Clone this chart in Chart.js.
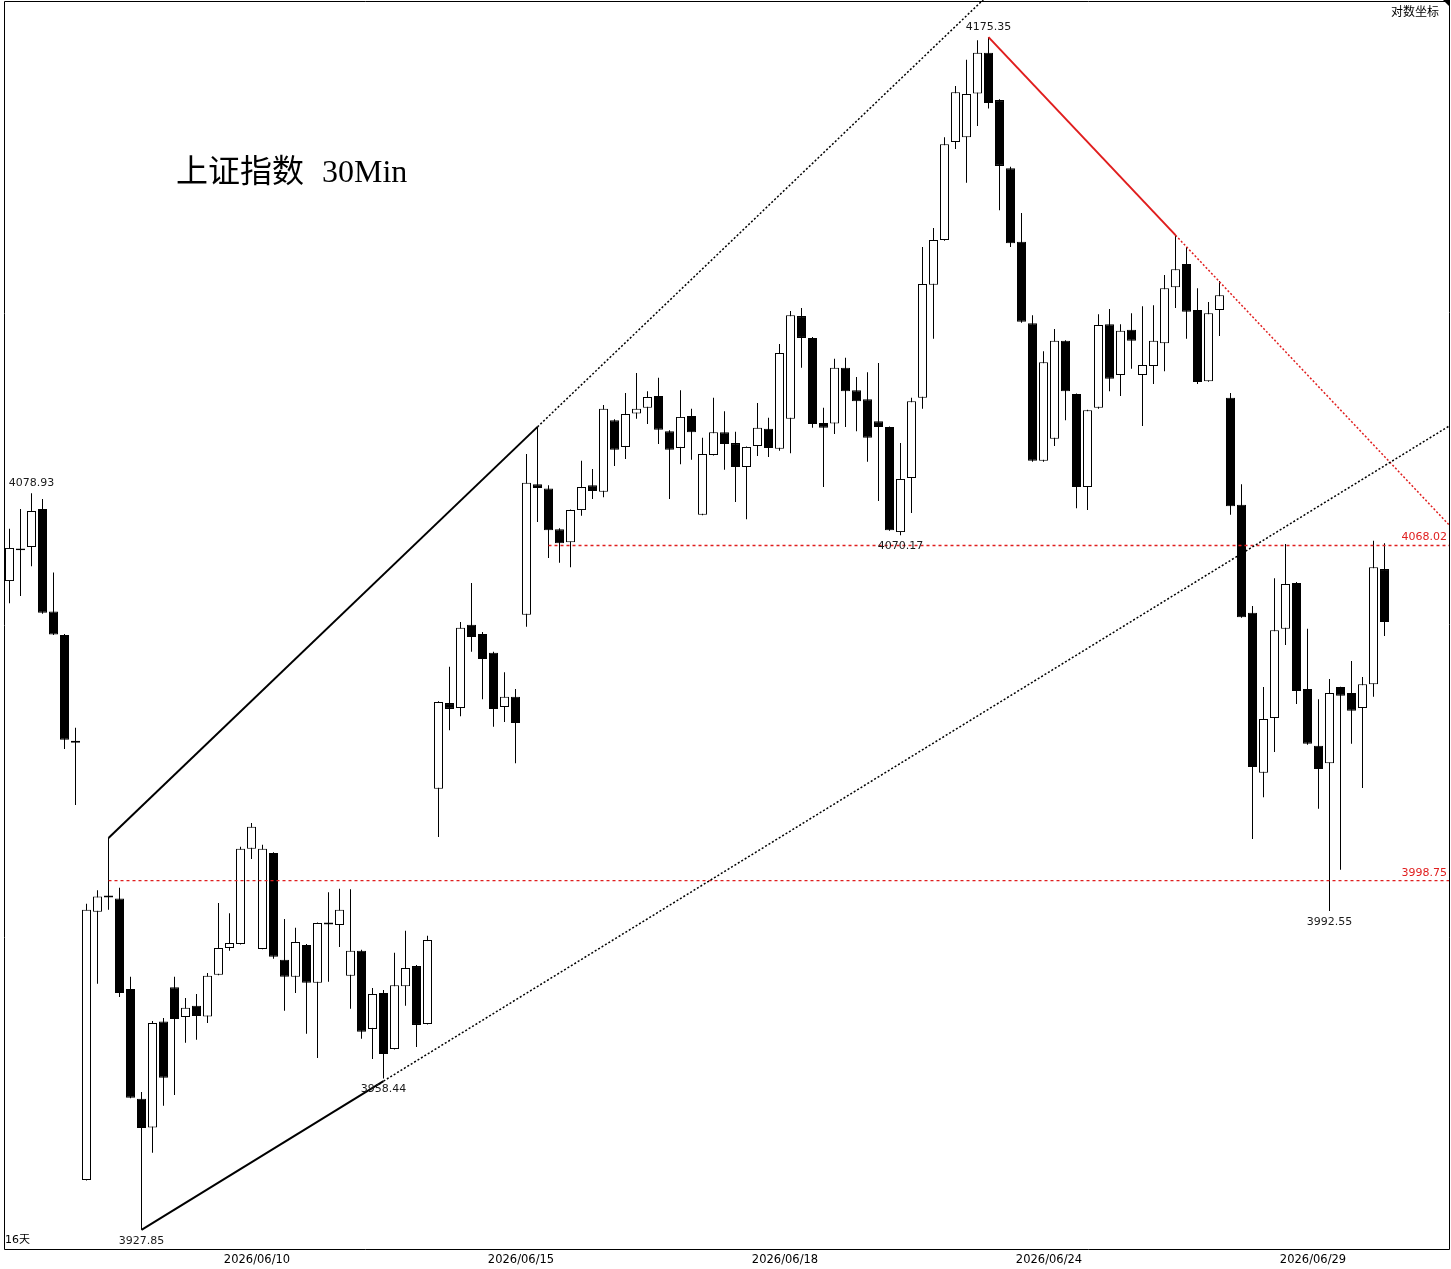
<!DOCTYPE html>
<html>
<head>
<meta charset="utf-8">
<script src="https://cdn.jsdelivr.net/npm/chart.js@4.4.1/dist/chart.umd.min.js"></script>
<style>
  html, body { margin: 0; padding: 0; background: #fff; }
  #wrap { width: 1451px; height: 1269px; position: relative; }
</style>
</head>
<body>
<div id="wrap"><canvas id="k30"></canvas></div>
<script>
// 30 minute candles, one per slot, left to right
const opens = [
  4060.6, 4067.0, 4067.7, 4075.6, 4054.3, 4049.4, 4027.5, 3937.9, 3992.4, 3995.3,
  3995.1, 3976.6, 3954.3, 3948.5, 3970.0, 3977.0, 3970.9, 3973.2, 3971.0, 3979.5,
  3985.0, 3985.8, 4005.3, 3984.8, 4004.4, 3982.6, 3979.1, 3985.6, 3977.9, 3989.8,
  3989.7, 3979.3, 3984.4, 3968.5, 3975.8, 3964.4, 3977.2, 3981.3, 3969.5, 4017.6,
  4035.3, 4034.3, 4051.5, 4049.6, 4045.7, 4034.5, 4036.6, 4053.6, 4080.8, 4079.9,
  4071.4, 4068.7, 4075.4, 4080.6, 4079.2, 4094.2, 4088.6, 4095.6, 4096.8, 4099.3,
  4091.9, 4088.4, 4095.1, 4074.4, 4086.9, 4091.7, 4089.4, 4084.4, 4088.8, 4092.4,
  4088.2, 4094.5, 4116.1, 4111.5, 4093.6, 4093.5, 4105.2, 4100.5, 4098.6, 4094.0,
  4092.8, 4070.8, 4082.1, 4098.9, 4122.7, 4132.2, 4153.0, 4154.0, 4163.3, 4172.0,
  4161.9, 4147.4, 4131.8, 4114.6, 4085.7, 4090.3, 4110.9, 4099.7, 4080.2, 4096.8,
  4114.4, 4103.7, 4113.2, 4103.7, 4105.6, 4110.4, 4122.2, 4127.1, 4117.4, 4102.4,
  4117.4, 4098.9, 4076.5, 4054.0, 4020.9, 4032.2, 4050.7, 4060.2, 4038.2, 4026.5,
  4022.9, 4038.6, 4037.4, 4034.3, 4039.2, 4063.1
];
const highs = [
  4071.5, 4075.6, 4078.93, 4077.7, 4062.4, 4049.6, 4030.2, 3994.0, 3996.8, 4007.5,
  3997.3, 3979.1, 3955.7, 3970.1, 3970.7, 3979.1, 3974.8, 3975.6, 3979.9, 3994.2,
  3992.1, 4005.7, 4010.6, 4006.1, 4004.6, 3990.9, 3989.1, 3985.8, 3990.2, 3996.4,
  3997.1, 3997.0, 3984.6, 3976.8, 3976.4, 3984.0, 3988.5, 3981.5, 3987.5, 4035.7,
  4042.8, 4052.1, 4060.2, 4050.0, 4045.9, 4041.7, 4038.2, 4087.1, 4092.8, 4080.6,
  4071.6, 4075.5, 4085.7, 4084.0, 4097.4, 4094.4, 4099.9, 4104.1, 4100.3, 4103.1,
  4092.1, 4100.5, 4096.6, 4090.5, 4098.9, 4096.1, 4091.8, 4088.7, 4097.8, 4094.7,
  4110.2, 4117.2, 4117.8, 4111.7, 4096.8, 4107.1, 4107.3, 4103.3, 4104.3, 4106.2,
  4092.9, 4089.4, 4098.9, 4130.7, 4134.7, 4154.0, 4164.9, 4170.5, 4174.7, 4175.35,
  4162.1, 4147.7, 4137.9, 4116.3, 4108.7, 4113.4, 4111.0, 4099.8, 4096.4, 4116.5,
  4117.6, 4114.4, 4116.7, 4118.2, 4118.4, 4124.8, 4133.2, 4130.7, 4122.0, 4119.1,
  4123.5, 4099.9, 4080.8, 4055.4, 4038.6, 4061.2, 4068.3, 4060.4, 4050.7, 4036.1,
  4040.3, 4038.7, 4044.0, 4040.7, 4069.0, 4068.5
];
const lows = [
  4056.0, 4057.5, 4063.7, 4053.8, 4049.4, 4025.8, 4014.3, 3937.8, 3977.7, 3992.8,
  3975.0, 3954.4, 3927.85, 3943.4, 3952.9, 3955.1, 3965.7, 3966.3, 3969.7, 3979.4,
  3984.4, 3985.7, 4003.2, 3984.7, 3982.8, 3972.2, 3975.8, 3967.5, 3962.6, 3978.1,
  3985.2, 3972.6, 3966.5, 3962.4, 3958.44, 3964.3, 3973.2, 3964.8, 3969.4, 4007.7,
  4029.7, 4032.6, 4045.9, 4036.1, 4030.4, 4031.4, 4022.9, 4051.1, 4072.9, 4065.4,
  4064.4, 4063.5, 4074.2, 4077.7, 4078.1, 4084.6, 4086.1, 4094.5, 4093.4, 4089.2,
  4077.7, 4085.0, 4085.9, 4074.3, 4086.8, 4083.8, 4077.1, 4073.5, 4086.7, 4086.5,
  4087.8, 4087.3, 4105.2, 4092.6, 4080.2, 4091.3, 4092.8, 4091.9, 4085.5, 4077.3,
  4071.1, 4070.17, 4074.8, 4096.6, 4111.3, 4132.0, 4151.5, 4144.3, 4156.4, 4160.1,
  4138.5, 4130.7, 4114.7, 4085.5, 4085.5, 4088.8, 4094.2, 4075.8, 4075.4, 4096.6,
  4100.3, 4099.3, 4105.0, 4093.0, 4101.8, 4104.5, 4117.8, 4111.3, 4101.8, 4102.3,
  4111.9, 4074.4, 4053.0, 4007.3, 4015.9, 4025.2, 4047.3, 4035.1, 4026.7, 4013.5,
  3992.55, 4001.0, 4026.9, 4017.8, 4036.6, 4049.2
];
const closes = [
  4067.5, 4067.4, 4075.2, 4054.0, 4049.5, 4027.7, 4027.1, 3992.8, 3995.5, 3995.7,
  3975.8, 3954.5, 3948.4, 3969.7, 3958.6, 3970.5, 3972.8, 3971.1, 3979.3, 3985.0,
  3986.0, 4005.3, 4009.8, 4005.3, 3983.2, 3979.1, 3986.2, 3977.9, 3990.1, 3990.2,
  3992.8, 3984.4, 3967.9, 3975.6, 3963.4, 3977.4, 3980.9, 3969.3, 3986.6, 4035.5,
  4034.1, 4050.9, 4049.0, 4044.4, 4034.1, 4036.6, 4031.2, 4081.1, 4080.0, 4071.2,
  4068.5, 4075.4, 4080.2, 4079.4, 4096.6, 4088.0, 4095.5, 4096.6, 4099.1, 4092.2,
  4088.0, 4094.9, 4091.7, 4087.1, 4091.7, 4089.2, 4084.4, 4088.6, 4092.6, 4088.4,
  4108.3, 4116.3, 4111.5, 4093.4, 4092.6, 4105.2, 4100.3, 4098.2, 4090.5, 4092.8,
  4071.2, 4081.9, 4098.2, 4122.9, 4132.2, 4152.5, 4163.6, 4163.2, 4172.0, 4161.3,
  4147.9, 4131.5, 4114.9, 4085.7, 4106.4, 4110.9, 4100.3, 4080.2, 4096.3, 4114.2,
  4102.9, 4113.0, 4110.9, 4105.8, 4110.9, 4122.0, 4126.0, 4117.0, 4102.2, 4116.7,
  4120.5, 4076.2, 4053.1, 4022.1, 4032.0, 4050.4, 4060.0, 4037.8, 4026.9, 4021.7,
  4037.4, 4036.8, 4033.7, 4039.2, 4063.5, 4052.1
];

// day boundaries (between slots) and their labels
const dayTicks = [22.5, 46.5, 70.5, 94.5, 118.5];
const dayLabels = ['2026/06/10', '2026/06/15', '2026/06/18', '2026/06/24', '2026/06/29'];

// drawn lines: [slot, price] anchors
const upperChannel = [[9, 4007.5], [48, 4092.8]];
const lowerChannel = [[12, 3927.85], [34, 3957.9]];
const redTrend = [[89, 4175.35], [106, 4133.2]];
const levels = [[49, 4068.02], [9, 3998.75]];

// marked extremes
const highMarks = [2, 89];
const lowMarks = [12, 34, 81, 120];

const xMin = -4.5 / 11;
const xMax = xMin + 1444 / 11;
const yMin = 3924.0;
const yMax = 4183.3;

function pt(a) { return { x: a[0], y: a[1] }; }
function extend(a, b, x) {
  const k = (Math.log(b[1]) - Math.log(a[1])) / (b[0] - a[0]);
  return { x: x, y: Math.exp(Math.log(a[1]) + k * (x - a[0])) };
}
function lineSet(points, color, dash, width) {
  return {
    type: 'line', data: points, borderColor: color, borderWidth: width,
    borderDash: dash, pointRadius: 0, fill: false, tension: 0, order: 0
  };
}

const idx = opens.map((_, i) => i);
const wicks = idx.map(i => ({ x: i, y: [lows[i], highs[i]] }));
const bodies = idx.map(i => ({ x: i, y: [opens[i], closes[i]] }));
const bodyFill = idx.map(i => (closes[i] >= opens[i] ? '#ffffff' : '#000000'));

const red = '#e01e1e';

const overlay = {
  id: 'overlay',
  afterDraw(chart) {
    const { ctx, chartArea: a } = chart;
    const x = chart.scales.x, y = chart.scales.y;
    ctx.save();

    // frame
    ctx.strokeStyle = '#000';
    ctx.lineWidth = 1;
    ctx.beginPath();
    ctx.moveTo(a.right + 0.5, a.top + 1.5);
    ctx.lineTo(a.left - 0.5, a.top + 1.5);
    ctx.lineTo(a.left - 0.5, a.bottom + 0.5);
    ctx.lineTo(a.right + 0.5, a.bottom + 0.5);
    ctx.lineTo(a.right + 0.5, a.top);
    ctx.stroke();

    // corner mark
    ctx.fillStyle = '#000';
    ctx.beginPath();
    ctx.moveTo(a.right - 6, a.top);
    ctx.lineTo(a.right + 1, a.top);
    ctx.lineTo(a.right + 1, a.top + 7);
    ctx.closePath();
    ctx.fill();

    // extremes
    ctx.font = '11px "DejaVu Sans"';
    ctx.fillStyle = '#1a1a1a';
    ctx.textAlign = 'center';
    ctx.textBaseline = 'middle';
    highMarks.forEach(i => {
      ctx.fillText(highs[i].toFixed(2), x.getPixelForValue(i), y.getPixelForValue(highs[i]) - 10);
    });
    lowMarks.forEach(i => {
      ctx.fillText(lows[i].toFixed(2), x.getPixelForValue(i), y.getPixelForValue(lows[i]) + 11);
    });

    // level labels
    ctx.fillStyle = red;
    ctx.textAlign = 'right';
    levels.forEach(l => {
      ctx.fillText(l[1].toFixed(2), a.right - 2, y.getPixelForValue(l[1]) - 8);
    });

    // corner texts
    ctx.fillStyle = '#000';
    ctx.font = '12px "Noto Sans CJK SC"';
    ctx.textAlign = 'right';
    ctx.fillText('对数坐标', a.right - 10, 11);
    ctx.textAlign = 'left';
    ctx.font = '11px "DejaVu Sans", "Noto Sans CJK SC"';
    ctx.fillText('16天', a.left, a.bottom - 9);

    // title
    ctx.textBaseline = 'alphabetic';
    ctx.font = '32px "Noto Sans CJK SC"';
    ctx.fillText('上证指数', 176, 182);
    ctx.font = '32px "Liberation Serif"';
    ctx.fillText('30Min', 322, 182);
    ctx.restore();
  }
};

new Chart(document.getElementById('k30'), {
  type: 'bar',
  data: {
    datasets: [
      lineSet([pt(upperChannel[0]), pt(upperChannel[1])], '#000', [], 2),
      lineSet([pt(upperChannel[1]), extend(upperChannel[0], upperChannel[1], xMax)], '#000', [2, 2], 1.5),
      lineSet([pt(lowerChannel[0]), pt(lowerChannel[1])], '#000', [], 2),
      lineSet([pt(lowerChannel[1]), extend(lowerChannel[0], lowerChannel[1], xMax)], '#000', [2, 2], 1.5),
      lineSet([pt(redTrend[0]), pt(redTrend[1])], red, [], 2),
      lineSet([pt(redTrend[1]), extend(redTrend[0], redTrend[1], xMax)], red, [2, 2], 1.5),
      lineSet([pt(levels[0]), { x: xMax, y: levels[0][1] }], red, [3, 3], 1.4),
      lineSet([pt(levels[1]), { x: xMax, y: levels[1][1] }], red, [3, 3], 1.4),
      {
        type: 'bar', data: bodies, backgroundColor: bodyFill, borderColor: '#000',
        borderWidth: 1, borderSkipped: false, barThickness: 9, grouped: false,
        inflateAmount: 0, order: 1
      },
      {
        type: 'bar', data: wicks, backgroundColor: '#000', borderWidth: 0,
        barThickness: 1, grouped: false, inflateAmount: 0, order: 2
      }
    ]
  },
  options: {
    responsive: true,
    maintainAspectRatio: false,
    animation: false,
    events: [],
    layout: { padding: { left: 5, right: 2, top: 0, bottom: 0 } },
    plugins: { legend: { display: false }, tooltip: { enabled: false } },
    scales: {
      x: {
        type: 'linear', min: xMin, max: xMax, offset: false,
        grid: { display: false, drawTicks: false },
        border: { display: false },
        afterBuildTicks: s => { s.ticks = dayTicks.map(v => ({ value: v })); },
        afterFit: s => { s.height = 20; },
        ticks: {
          autoSkip: false, maxRotation: 0, padding: 4, color: '#000',
          font: { family: 'DejaVu Sans', size: 11.5 },
          callback: (v, i) => dayLabels[i]
        }
      },
      y: { type: 'logarithmic', min: yMin, max: yMax, display: false }
    }
  },
  plugins: [overlay]
});
</script>
</body>
</html>
